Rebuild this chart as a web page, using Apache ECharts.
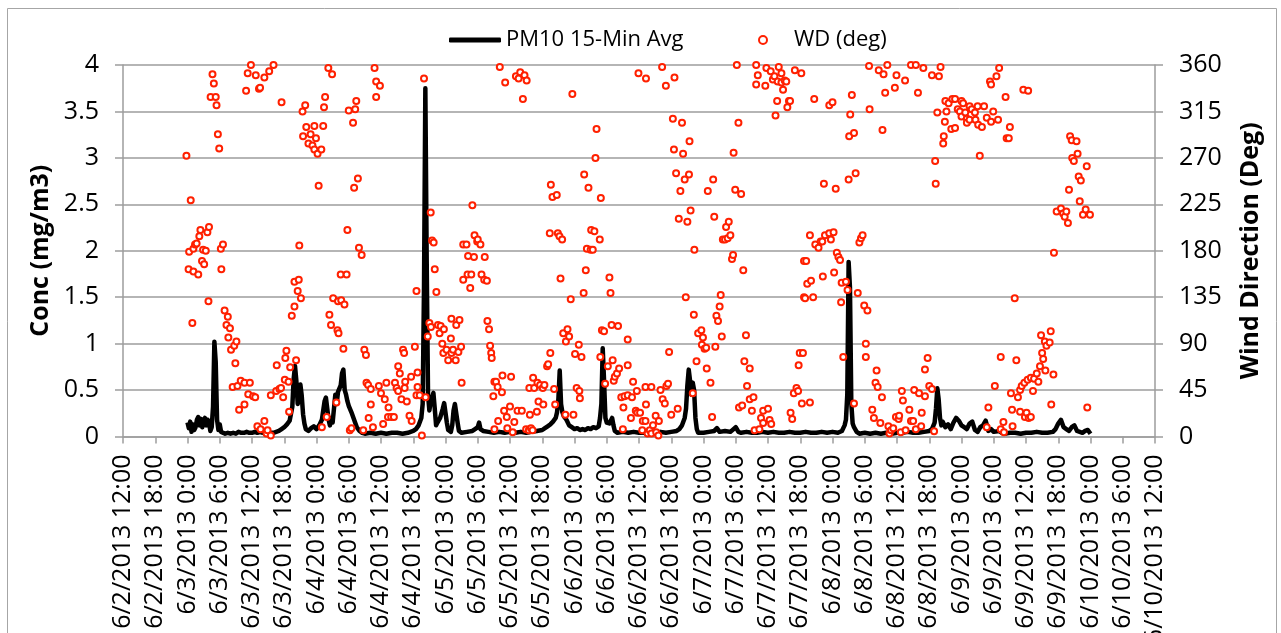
<!DOCTYPE html>
<html>
<head>
<meta charset="utf-8">
<script src="https://cdn.jsdelivr.net/npm/echarts@6/dist/echarts.min.js"></script>
<style>
  html, body { margin: 0; padding: 0; background: #fff; }
  #chart { width: 1281px; height: 633px; }
</style>
</head>
<body>
<div id="chart"></div>
<script>
// Time is expressed in hours since 6/2/2013 0:00
const xMinHour = 12;   // 6/2/2013 12:00
const xMaxHour = 204;  // 6/10/2013 12:00
const xStepHours = 6;
const concTicks = [0, 0.5, 1, 1.5, 2, 2.5, 3, 3.5, 4];
const wdTicks = [0, 45, 90, 135, 180, 225, 270, 315, 360];
const seriesNames = ['PM10 15-Min Avg', 'WD (deg)'];

// PM10 15-minute average concentration, mg/m3  [hour, value]
const pm10 = [
[24.0,0.15],[24.25,0.09],[24.5,0.16],[24.75,0.05],[25.0,0.13],[25.25,0.07],[25.5,0.1],[25.75,0.18],[26.0,0.21],[26.25,0.12],[26.5,0.19],[26.75,0.1],[27.0,0.17],[27.25,0.2],[27.5,0.12],[27.75,0.18],[28.0,0.15],[28.25,0.06],[28.5,0.1],[28.75,0.32],[29.0,1.02],[29.25,0.8],[29.5,0.18],[29.75,0.07],[30.0,0.13],[30.25,0.05],[30.5,0.04],[31.0,0.03],[31.5,0.04],[32.0,0.03],[32.5,0.04],[33.0,0.03],[33.5,0.05],[34.0,0.04],[34.5,0.04],[35.0,0.05],[35.5,0.04],[36.0,0.04],[36.5,0.05],[37.0,0.04],[37.5,0.05],[38.0,0.04],[38.5,0.04],[39.0,0.03],[39.5,0.04],[40.0,0.04],[40.5,0.05],[41.0,0.06],[41.5,0.08],[42.0,0.1],[42.5,0.13],[43.0,0.17],[43.5,0.32],[43.75,0.62],[44.0,0.76],[44.25,0.6],[44.5,0.35],[44.75,0.42],[45.0,0.56],[45.25,0.44],[45.5,0.24],[45.75,0.14],[46.0,0.08],[46.5,0.06],[47.0,0.09],[47.5,0.11],[48.0,0.08],[48.5,0.12],[49.0,0.18],[49.5,0.38],[49.75,0.42],[50.0,0.3],[50.25,0.18],[50.5,0.12],[50.75,0.2],[51.0,0.15],[51.25,0.3],[51.5,0.45],[51.75,0.35],[52.0,0.48],[52.25,0.5],[52.5,0.55],[52.75,0.68],[53.0,0.72],[53.25,0.5],[53.5,0.45],[53.75,0.38],[54.0,0.33],[54.5,0.26],[55.0,0.18],[55.5,0.1],[56.0,0.06],[56.5,0.04],[57.0,0.03],[58,0.04],[59,0.03],[60,0.04],[61,0.03],[62,0.04],[63,0.04],[64,0.03],[65,0.04],[65.5,0.05],[66.0,0.06],[66.5,0.08],[67.0,0.12],[67.5,0.2],[67.75,0.35],[68.0,1.6],[68.25,3.75],[68.5,1.9],[68.75,0.45],[69.0,0.28],[69.25,0.38],[69.5,0.42],[69.75,0.47],[70.0,0.3],[70.25,0.12],[70.5,0.15],[71.0,0.2],[71.5,0.3],[71.75,0.36],[72.0,0.38],[72.25,0.15],[72.5,0.07],[73.0,0.05],[73.25,0.12],[73.5,0.28],[73.75,0.35],[74.0,0.37],[74.25,0.15],[74.5,0.06],[75.0,0.04],[76.0,0.05],[77.0,0.06],[77.5,0.08],[78.0,0.1],[78.25,0.15],[78.5,0.08],[79.0,0.06],[80.0,0.05],[81,0.04],[82,0.05],[83,0.04],[84,0.05],[85,0.04],[86,0.05],[87,0.04],[88,0.05],[89,0.06],[90,0.07],[90.5,0.09],[91.0,0.11],[91.5,0.13],[92.0,0.16],[92.5,0.2],[92.75,0.26],[93.0,0.4],[93.25,0.71],[93.5,0.35],[93.75,0.26],[94.0,0.22],[94.5,0.18],[95.0,0.12],[95.5,0.1],[96.0,0.08],[96.5,0.09],[97,0.07],[97.5,0.08],[98,0.07],[98.5,0.09],[99,0.08],[99.5,0.1],[100,0.09],[100.5,0.11],[100.75,0.2],[101.0,0.35],[101.25,0.95],[101.5,0.6],[101.75,0.2],[102.0,0.15],[102.5,0.14],[103.0,0.2],[103.25,0.12],[103.5,0.06],[104.0,0.04],[105,0.05],[106,0.04],[107,0.05],[108,0.04],[109,0.04],[110,0.05],[111,0.04],[112,0.05],[113,0.04],[114,0.05],[115,0.06],[115.5,0.08],[116.0,0.12],[116.5,0.2],[116.75,0.3],[117.0,0.55],[117.25,0.72],[117.5,0.6],[117.75,0.45],[118.0,0.58],[118.25,0.5],[118.5,0.2],[118.75,0.08],[119.0,0.04],[120,0.04],[121,0.05],[122,0.06],[122.5,0.09],[123,0.05],[124,0.06],[125,0.05],[126,0.1],[126.5,0.05],[127,0.04],[128,0.05],[129,0.04],[130,0.04],[131,0.05],[132,0.04],[133,0.05],[134,0.04],[135,0.04],[136,0.05],[137,0.04],[138,0.04],[139,0.05],[140,0.04],[141,0.04],[142,0.05],[143,0.04],[144,0.05],[145,0.04],[145.75,0.06],[146.25,0.12],[146.5,0.18],[146.75,0.45],[147.0,1.88],[147.25,1.6],[147.5,0.35],[147.75,0.14],[148.0,0.1],[148.5,0.05],[149,0.03],[150,0.04],[151,0.03],[152,0.04],[153,0.03],[154,0.04],[155,0.03],[156,0.04],[157,0.04],[158,0.05],[159,0.04],[160,0.04],[161,0.05],[162,0.06],[162.5,0.08],[163.0,0.15],[163.25,0.3],[163.5,0.52],[163.75,0.4],[164.0,0.2],[164.25,0.12],[164.5,0.16],[165.0,0.1],[165.5,0.13],[166.0,0.08],[166.5,0.15],[167.0,0.2],[167.5,0.17],[168.0,0.12],[168.5,0.1],[169.0,0.08],[169.5,0.14],[170.0,0.16],[170.5,0.07],[171.0,0.05],[171.5,0.1],[172.0,0.12],[172.5,0.17],[173.0,0.06],[173.5,0.08],[174.0,0.05],[175.0,0.06],[175.5,0.04],[176,0.03],[177,0.04],[178,0.04],[179,0.03],[180,0.04],[181,0.04],[182,0.05],[183,0.04],[184,0.04],[185,0.05],[185.5,0.08],[186.0,0.14],[186.5,0.18],[187.0,0.1],[187.5,0.08],[188.0,0.06],[188.5,0.1],[189.0,0.12],[189.5,0.06],[190.0,0.05],[190.5,0.04],[191.0,0.06],[191.5,0.07],[192.0,0.03]
];

// Wind direction, degrees  [hour, value]
const windDir = [
[23.8,272],[24.6,229],[24.2,162],[24.3,179],[24.9,110],[25.1,182],[25.1,160],[25.4,186],[25.7,187],[26.0,157],[26.2,194],[26.4,200],[26.7,170],[26.9,181],[27.1,167],[27.4,180],[27.7,198],[27.9,131],[28.0,203],[28.3,329],[28.65,351],[28.9,342],[29.25,329],[29.4,321],[29.65,293],[29.9,279],[30.2,182],[30.3,162],[30.6,186],[30.9,122],[31.25,108],[31.5,116],[31.6,96],[31.9,105],[32.1,84],[32.4,48],[32.7,88],[32.9,71],[33.1,92],[33.3,49],[33.6,26],[33.9,54],[34.6,52],[34.6,31],[34.9,335],[35.2,352],[35.3,41],[35.6,52],[35.8,360],[36.2,39],[36.6,38],[36.7,350],[37.0,10],[37.3,337],[37.5,338],[37.6,7],[38.3,348],[38.3,15],[38.7,3],[38.9,6],[39.2,354],[39.5,40],[39.5,1],[40.0,360],[40.5,44],[40.6,69],[41.1,46],[41.4,47],[41.5,324],[41.8,38],[42.1,55],[42.2,76],[42.4,83],[42.8,53],[42.9,24],[43.1,67],[43.4,117],[43.9,150],[43.9,126],[44.2,74],[44.5,141],[44.7,152],[44.8,185],[45.1,134],[45.4,315],[45.5,291],[45.9,321],[46.1,300],[46.5,284],[46.9,293],[47.25,282],[47.6,301],[47.6,278],[47.9,289],[48.2,274],[48.4,243],[48.9,278],[49.0,9],[49.25,301],[49.4,319],[49.6,329],[49.9,19],[50.2,357],[50.4,118],[50.7,108],[50.9,351],[51.1,134],
[51.7,33],[51.9,103],[52.0,131],[52.1,100],[52.5,157],[52.6,132],[53.0,85],[53.2,128],[53.6,157],[53.75,200],[54.0,316],[54.2,6],[54.5,8],[54.8,304],[55.0,241],[55.2,317],[55.4,325],[55.7,250],[55.9,183],[56.4,176],[56.7,6],[56.9,84],[57.2,79],[57.3,52],[57.6,50],[57.7,18],[58.1,46],[58.1,31],[58.5,9],[58.8,357],[59.1,344],[59.1,329],[59.6,49],[59.8,340],[60.0,42],[60.4,12],[60.7,36],[61.0,52],[61.3,19],[61.4,28],[61.9,19],[62.4,19],[62.6,52],[62.9,47],[63.2,68],[63.2,44],[63.5,61],[63.8,36],[64.1,84],[64.3,81],[64.4,47],[64.5,53],[64.8,34],[65.3,20],[65.6,58],[65.7,15],[66.3,87],[66.6,141],[66.6,40],[66.8,62],[66.8,48],[67.2,40],[67.6,1],[68.0,347],[68.3,38],[68.7,97],[69.0,110],[69.25,217],[69.3,106],[69.5,190],[69.8,188],[70.0,162],[70.3,140],[70.6,108],[70.9,100],[71.1,107],[71.4,90],[71.6,81],[71.7,104],[72.2,84],[72.5,74],[73.0,95],[73.1,114],[73.1,81],[73.4,84],[73.9,74],[74.0,108],[74.4,82],[74.6,113],[74.9,87],[75.0,52],[75.3,186],[75.3,152],[75.9,186],[76.1,157],[76.2,175],[76.6,144],[76.8,157],[77.0,224],[77.3,174],[77.4,195],[77.9,189],[78.0,191],[78.5,186],[78.7,157],[79.2,152],[79.3,174],[79.7,151],[79.8,112],[80.1,104],[80.3,88],[80.5,81],[80.6,76],[80.9,39],[81.1,53],
[81.1,7],[81.4,53],[81.7,48],[81.8,15],[82.1,358],[82.5,43],[82.6,59],[82.9,25],[83.1,343],[83.4,19],[83.5,8],[84.0,29],[84.2,58],[84.5,4],[84.8,14],[85.1,349],[85.4,25],[85.6,347],[85.9,353],[86.2,25],[86.4,327],[86.7,350],[87.0,7],[87.1,345],[87.5,6],[87.6,47],[87.7,21],[87.9,8],[88.2,6],[88.3,57],[88.5,47],[89.0,24],[89.1,52],[89.3,34],[89.6,50],[90.1,47],[90.2,31],[90.4,50],[90.9,68],[91.1,70],[91.4,197],[91.5,81],[91.6,244],[91.9,232],[92.2,46],[92.4,31],[92.7,234],[92.9,197],[93.2,194],[93.4,153],[93.7,191],[93.9,100],[94.3,21],[94.4,92],[94.7,104],[95.0,97],[95.3,133],[95.6,332],[95.8,21],[96.1,80],[96.4,47],[96.8,89],[96.9,44],[97.0,37],[97.3,77],[97.7,139],[97.8,254],[98.1,161],[98.3,182],[98.6,241],[99.0,181],[99.1,200],[99.4,181],[99.7,199],[99.9,270],[100.1,298],[100.7,191],[100.8,77],[100.9,231],[101.1,103],[101.5,102],[101.7,51],[102.2,68],[102.5,154],[102.7,139],[102.9,108],[103.1,74],[103.3,54],[103.5,58],[103.9,61],[104.1,107],[104.3,66],[104.7,38],[105.0,7],[105.1,28],[105.3,39],[105.9,94],[105.9,69],[105.9,40],[106.5,18],[106.7,38],[106.9,53],[107.4,25],[107.6,44],[107.7,23],[107.9,352],[108.2,23],[108.6,6],[108.7,15],[109.2,48],[109.2,15],[109.3,347],[109.3,31],[109.6,3],
[110.0,6],[110.3,48],[110.3,3],[110.6,11],[111.1,20],[111.2,4],[111.6,1],[111.7,15],[112.0,45],[112.3,358],[112.4,36],[112.8,32],[113.0,340],[113.1,49],[113.4,51],[113.6,82],[114.0,21],[114.3,308],[114.5,278],[114.6,348],[114.9,255],[115.2,27],[115.4,211],[115.7,238],[116.0,304],[116.2,274],[116.5,249],[116.7,135],[117.0,208],[117.3,254],[117.4,286],[117.6,219],[118.0,42],[118.2,118],[118.3,181],[118.7,73],[119.0,100],[119.6,103],[119.7,89],[119.9,96],[120.2,85],[120.5,86],[120.6,66],[120.8,238],[121.3,52],[121.6,19],[121.8,249],[122.0,213],[122.2,87],[122.4,117],[122.7,112],[123.0,126],[123.2,137],[123.4,97],[123.6,191],[124.0,191],[124.2,203],[124.5,192],[124.7,208],[125.0,195],[125.3,172],[125.5,176],[125.6,275],[125.9,239],[126.2,360],[126.5,304],[126.6,28],[127.0,235],[127.2,30],[127.4,161],[127.6,73],[127.9,98],[128.1,49],[128.6,66],[128.6,36],[129.0,25],[129.3,38],[129.5,6],[129.8,360],[129.8,341],[130.1,350],[130.4,7],[130.7,18],[131.1,25],[131.1,13],[131.5,340],[131.7,357],[132.0,27],[132.3,16],[132.5,354],[132.6,12],[132.9,346],[133.2,349],[133.4,311],[133.7,325],[133.8,344],[134.0,358],[134.5,352],[134.5,343],[134.8,336],[135.1,345],[135.4,344],[135.6,319],[135.9,325],[136.1,325],[136.2,23],[136.5,17],[136.8,42],[137.0,355],[137.3,47],[137.6,44],[137.7,69],[137.9,81],[138.2,352],[138.3,32],[138.5,81],[138.7,170],[138.7,135],
[138.9,134],[139.1,170],[139.3,148],[139.8,195],[139.8,33],[140.0,151],[140.4,135],[140.6,327],[140.8,186],[141.4,183],[141.8,189],[142.1,189],[142.2,155],[142.4,245],[142.6,195],[143.4,321],[143.4,197],[143.7,191],[144.0,324],[144.2,198],[144.3,159],[144.6,240],[144.8,178],[145.1,174],[145.4,171],[145.6,130],[145.7,149],[146.0,77],[146.5,150],[146.8,142],[147.0,249],[147.1,291],[147.3,312],[147.6,331],[148.0,294],[148.0,32],[148.3,255],[148.7,139],[149.0,188],[149.3,192],[149.6,195],[149.9,127],[150.2,90],[150.2,77],[150.5,122],[150.8,359],[150.9,317],[151.4,26],[151.7,18],[152.0,52],[152.2,64],[152.4,48],[152.6,355],[152.9,13],[153.2,38],[153.3,297],[153.5,351],[153.8,333],[154.2,360],[154.4,10],[154.6,3],[154.9,6],[155.3,8],[155.6,338],[155.8,19],[155.9,350],[156.3,17],[156.4,20],[156.7,4],[156.9,44],[157.1,35],[157.5,345],[157.6,6],[158.3,26],[158.6,360],[158.6,15],[159.0,15],[159.2,45],[159.5,360],[159.5,7],[159.9,333],[160.1,42],[160.5,10],[160.6,23],[160.9,357],[161.2,65],[161.2,39],[161.7,76],[162.0,49],[162.5,350],[162.5,46],[162.9,5],[163.1,267],[163.2,245],[163.5,314],[163.8,349],[164.1,358],[164.6,284],[164.7,291],[164.9,305],[165.0,325],[165.2,315],[165.6,323],[166.1,298],[166.3,327],
[166.8,327],[166.8,299],[167.3,317],[167.7,315],[168.0,325],[168.0,310],[168.3,323],[168.7,314],[169.0,308],[169.0,304],[169.5,320],[169.5,307],[169.9,317],[170.5,314],[170.6,307],[171.0,320],[171.1,302],[171.4,272],[171.8,300],[172.2,320],[172.7,309],[172.7,9],[173.0,28],[173.3,344],[173.5,341],[173.5,305],[173.9,315],[174.2,49],[174.5,349],[174.8,307],[175.0,357],[175.3,77],[175.3,7],[175.8,14],[175.9,4],[176.2,329],[176.4,289],[176.8,289],[177.0,300],[177.2,42],[177.4,26],[177.5,10],[177.9,134],[178.2,74],[178.5,38],[178.9,45],[178.9,24],[179.2,49],[179.5,336],[179.7,52],[179.8,19],[180.1,23],[180.3,55],[180.4,335],[180.5,18],[180.9,57],[180.9,19],[181.3,44],[181.5,56],[182.0,61],[182.3,53],[182.6,68],[182.8,98],[183.0,81],[183.2,75],[183.5,92],[183.6,64],[183.8,88],[184.4,91],[184.6,102],[184.7,31],[185.1,60],[185.2,178],[185.7,218],[186.5,221],[186.9,216],[187.2,213],[187.5,218],[187.8,207],[188.0,239],[188.2,291],[188.5,287],[188.6,270],[188.9,267],[189.4,286],[189.6,274],[189.8,252],[190.0,228],[190.2,248],[190.6,215],[191.1,220],[191.3,262],[191.4,28],[191.9,215]
];

function hourLabel(h) {
  const day = 2 + Math.floor(h / 24);
  const hr = h % 24;
  return '6/' + day + '/2013 ' + hr + ':00';
}

const FONT = 'Open Sans';
const AXIS_GRAY = '#9d9d9d';
const RED = '#ff2000';

const chart = echarts.init(document.getElementById('chart'), null, { renderer: 'canvas' });
chart.setOption({
  backgroundColor: '#ffffff',
  animation: false,
  textStyle: { fontFamily: FONT, color: '#000' },
  graphic: [{
    type: 'rect', silent: true, z: -10,
    shape: { x: 7.5, y: 8.5, width: 1269, height: 700 },
    style: { fill: 'none', stroke: '#a6a6a6', lineWidth: 1 }
  }],
  legend: [{
    data: [{ name: seriesNames[0], icon: 'roundRect' }], left: 449, top: 29, padding: 0,
    itemWidth: 52, itemHeight: 5,
    itemStyle: { color: '#000' },
    textStyle: { fontFamily: FONT, fontSize: 22, color: '#000' }
  }, {
    data: [seriesNames[1]], left: 758, top: 29, padding: 0,
    itemWidth: 52, itemHeight: 8,
    textStyle: { fontFamily: FONT, fontSize: 22, color: '#000' }
  }],
  grid: { left: 123, right: 126, top: 65, bottom: 196.5, containLabel: false, outerBoundsMode: 'none' },
  xAxis: {
    type: 'value', min: xMinHour, max: xMaxHour, interval: xStepHours,
    axisLine: { show: true, lineStyle: { color: AXIS_GRAY, width: 1.5 } },
    axisTick: { show: true, length: 7, lineStyle: { color: AXIS_GRAY, width: 1.5 } },
    splitLine: { show: false },
    axisLabel: {
      rotate: 90, margin: 18, fontSize: 25, fontFamily: FONT, color: '#000',
      formatter: hourLabel
    }
  },
  yAxis: [{
    type: 'value', min: concTicks[0], max: concTicks[concTicks.length - 1], interval: 0.5,
    name: 'Conc (mg/m3)', nameLocation: 'middle', nameRotate: 90, nameGap: 67,
    nameTextStyle: { fontFamily: FONT, fontSize: 25, fontWeight: 'bold', color: '#000' },
    axisLine: { show: true, lineStyle: { color: AXIS_GRAY, width: 1.5 } },
    axisTick: { show: true, length: 8, lineStyle: { color: AXIS_GRAY, width: 1.5 } },
    splitLine: { show: true, lineStyle: { color: AXIS_GRAY, width: 1.5 } },
    axisLabel: { margin: 24, fontSize: 25, fontFamily: FONT, color: '#000' }
  }, {
    type: 'value', position: 'right',
    min: wdTicks[0], max: wdTicks[wdTicks.length - 1], interval: 45,
    name: 'Wind Direction (Deg)', nameLocation: 'middle', nameRotate: 90, nameGap: 83,
    nameTextStyle: { fontFamily: FONT, fontSize: 25, fontWeight: 'bold', color: '#000' },
    axisLine: { show: true, lineStyle: { color: AXIS_GRAY, width: 1.5 } },
    axisTick: { show: true, length: 8, lineStyle: { color: AXIS_GRAY, width: 1.5 } },
    splitLine: { show: false },
    axisLabel: { margin: 24, fontSize: 25, fontFamily: FONT, color: '#000' }
  }],
  series: [{
    name: seriesNames[0], type: 'line', yAxisIndex: 0,
    data: pm10, showSymbol: false, symbol: 'none',
    lineStyle: { color: '#000', width: 4.5, join: 'round' },
    itemStyle: { color: '#000' },
    z: 2
  }, {
    name: seriesNames[1], type: 'scatter', yAxisIndex: 1,
    data: windDir, symbol: 'emptyCircle', symbolSize: 6,
    itemStyle: { color: RED, borderColor: RED, borderWidth: 2.3, opacity: 1 },
    z: 3
  }]
});
</script>
</body>
</html>
